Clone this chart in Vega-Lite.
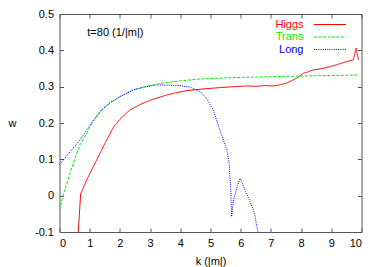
{
  "$schema": "https://vega.github.io/schema/vega-lite/v6.json",
  "width": 302,
  "height": 218,
  "autosize": {"type": "none"},
  "padding": {"left": 59.5, "top": 14, "right": 20.5, "bottom": 35},
  "background": "white",
  "config": {
    "view": {"stroke": null},
    "font": "Liberation Sans",
    "axis": {
      "grid": false,
      "domainColor": "#555555",
      "tickColor": "#555555",
      "tickSize": -4,
      "labelFont": "Liberation Sans",
      "labelFontSize": 11,
      "labelColor": "#000000",
      "titleFont": "Liberation Sans",
      "titleFontSize": 11,
      "titleFontWeight": "normal",
      "titleColor": "#000000"
    }
  },
  "datasets": {
    "curves": [
      {"series": "Higgs", "k": 0.60, "w": -0.13},
      {"series": "Higgs", "k": 0.70, "w": 0.005},
      {"series": "Higgs", "k": 0.90, "w": 0.043},
      {"series": "Higgs", "k": 1.23, "w": 0.098},
      {"series": "Higgs", "k": 1.56, "w": 0.153},
      {"series": "Higgs", "k": 1.80, "w": 0.19},
      {"series": "Higgs", "k": 2.00, "w": 0.21},
      {"series": "Higgs", "k": 2.33, "w": 0.236},
      {"series": "Higgs", "k": 2.60, "w": 0.248},
      {"series": "Higgs", "k": 2.89, "w": 0.259},
      {"series": "Higgs", "k": 3.20, "w": 0.268},
      {"series": "Higgs", "k": 3.55, "w": 0.277},
      {"series": "Higgs", "k": 3.90, "w": 0.284},
      {"series": "Higgs", "k": 4.21, "w": 0.289},
      {"series": "Higgs", "k": 4.65, "w": 0.293},
      {"series": "Higgs", "k": 5.09, "w": 0.296},
      {"series": "Higgs", "k": 5.60, "w": 0.299},
      {"series": "Higgs", "k": 6.20, "w": 0.302},
      {"series": "Higgs", "k": 6.50, "w": 0.301},
      {"series": "Higgs", "k": 6.80, "w": 0.303},
      {"series": "Higgs", "k": 7.10, "w": 0.302},
      {"series": "Higgs", "k": 7.30, "w": 0.305},
      {"series": "Higgs", "k": 7.52, "w": 0.31},
      {"series": "Higgs", "k": 7.70, "w": 0.317},
      {"series": "Higgs", "k": 7.85, "w": 0.323},
      {"series": "Higgs", "k": 8.07, "w": 0.337},
      {"series": "Higgs", "k": 8.20, "w": 0.340},
      {"series": "Higgs", "k": 8.40, "w": 0.346},
      {"series": "Higgs", "k": 8.70, "w": 0.350},
      {"series": "Higgs", "k": 8.96, "w": 0.355},
      {"series": "Higgs", "k": 9.20, "w": 0.361},
      {"series": "Higgs", "k": 9.51, "w": 0.369},
      {"series": "Higgs", "k": 9.73, "w": 0.374},
      {"series": "Higgs", "k": 9.78, "w": 0.39},
      {"series": "Higgs", "k": 9.82, "w": 0.406},
      {"series": "Higgs", "k": 9.86, "w": 0.39},
      {"series": "Higgs", "k": 9.90, "w": 0.374},
      {"series": "Trans", "k": 0.00, "w": -0.039},
      {"series": "Trans", "k": 0.15, "w": 0.01},
      {"series": "Trans", "k": 0.35, "w": 0.062},
      {"series": "Trans", "k": 0.50, "w": 0.10},
      {"series": "Trans", "k": 0.68, "w": 0.14},
      {"series": "Trans", "k": 0.90, "w": 0.172},
      {"series": "Trans", "k": 1.10, "w": 0.203},
      {"series": "Trans", "k": 1.40, "w": 0.236},
      {"series": "Trans", "k": 1.67, "w": 0.255},
      {"series": "Trans", "k": 2.00, "w": 0.272},
      {"series": "Trans", "k": 2.44, "w": 0.291},
      {"series": "Trans", "k": 2.80, "w": 0.299},
      {"series": "Trans", "k": 3.10, "w": 0.305},
      {"series": "Trans", "k": 3.50, "w": 0.311},
      {"series": "Trans", "k": 3.99, "w": 0.316},
      {"series": "Trans", "k": 4.65, "w": 0.321},
      {"series": "Trans", "k": 5.50, "w": 0.324},
      {"series": "Trans", "k": 6.20, "w": 0.326},
      {"series": "Trans", "k": 7.30, "w": 0.328},
      {"series": "Trans", "k": 8.40, "w": 0.33},
      {"series": "Trans", "k": 9.90, "w": 0.332},
      {"series": "Long", "k": 0.00, "w": 0.085},
      {"series": "Long", "k": 0.35, "w": 0.121},
      {"series": "Long", "k": 0.68, "w": 0.153},
      {"series": "Long", "k": 0.90, "w": 0.181},
      {"series": "Long", "k": 1.10, "w": 0.205},
      {"series": "Long", "k": 1.40, "w": 0.237},
      {"series": "Long", "k": 1.67, "w": 0.256},
      {"series": "Long", "k": 2.00, "w": 0.273},
      {"series": "Long", "k": 2.44, "w": 0.291},
      {"series": "Long", "k": 2.80, "w": 0.299},
      {"series": "Long", "k": 3.22, "w": 0.305},
      {"series": "Long", "k": 3.60, "w": 0.304},
      {"series": "Long", "k": 3.99, "w": 0.303},
      {"series": "Long", "k": 4.32, "w": 0.299},
      {"series": "Long", "k": 4.65, "w": 0.287},
      {"series": "Long", "k": 4.87, "w": 0.268},
      {"series": "Long", "k": 5.09, "w": 0.236},
      {"series": "Long", "k": 5.31, "w": 0.181},
      {"series": "Long", "k": 5.54, "w": 0.126},
      {"series": "Long", "k": 5.62, "w": 0.089},
      {"series": "Long", "k": 5.67, "w": 0.016},
      {"series": "Long", "k": 5.70, "w": -0.058},
      {"series": "Long", "k": 5.76, "w": -0.012},
      {"series": "Long", "k": 5.87, "w": 0.02},
      {"series": "Long", "k": 5.98, "w": 0.048},
      {"series": "Long", "k": 6.03, "w": 0.039},
      {"series": "Long", "k": 6.14, "w": 0.016},
      {"series": "Long", "k": 6.31, "w": -0.016},
      {"series": "Long", "k": 6.42, "w": -0.04},
      {"series": "Long", "k": 6.47, "w": -0.053},
      {"series": "Long", "k": 6.53, "w": -0.085},
      {"series": "Long", "k": 6.58, "w": -0.1},
      {"series": "Long", "k": 6.62, "w": -0.13}
    ],
    "note": [{"label": "t=80 (1/|m|)"}]
  },
  "layer": [
    {
      "data": {"name": "curves"},
      "mark": {"type": "line", "strokeWidth": 1, "clip": true},
      "encoding": {
        "x": {
          "field": "k", "type": "quantitative",
          "scale": {"domain": [0, 10], "nice": false, "zero": false},
          "axis": {"orient": "bottom", "title": "k (|m|)", "values": [0,1,2,3,4,5,6,7,8,9,10], "format": "d", "labelPadding": 9, "titleBaseline": "middle", "titleY": 29}
        },
        "y": {
          "field": "w", "type": "quantitative",
          "scale": {"domain": [-0.1, 0.5], "nice": false, "zero": false},
          "axis": {"orient": "left", "title": "w", "values": [-0.1, 0, 0.1, 0.2, 0.3, 0.4, 0.5], "format": ".1~f", "labelExpr": "replace(datum.label, '−', '-')", "labelPadding": 10, "titleAngle": 0, "titleAlign": "center", "titleBaseline": "middle", "titleX": -47.5, "titleY": 109}
        },
        "color": {
          "field": "series", "type": "nominal",
          "scale": {"domain": ["Higgs", "Trans", "Long"], "range": ["#ff0000", "#00ee00", "#0000ff"]},
          "legend": {
            "title": null,
            "orient": "none",
            "legendX": 265,
            "legendY": 5,
            "padding": 0,
            "symbolType": "M-4,0H4",
            "symbolSize": 64,
            "symbolStrokeWidth": 1,
            "labelAlign": "right",
            "labelOffset": -32,
            "labelFont": "Liberation Sans",
            "labelFontSize": 11,
            "rowPadding": 0.5,
            "encode": {"labels": {"update": {"fill": {"scale": "color", "field": "value"}}}}
          }
        },
        "strokeDash": {
          "field": "series", "type": "nominal",
          "scale": {"domain": ["Higgs", "Trans", "Long"], "range": [[1, 0], [3, 1.5], [1, 1.2]]}
        },
        "detail": {"field": "series"}
      }
    },
    {
      "data": {"name": "note"},
      "mark": {"type": "text", "align": "left", "baseline": "middle", "font": "Liberation Sans", "fontSize": 11, "color": "#000000"},
      "encoding": {
        "x": {"datum": 0.92, "type": "quantitative", "axis": {"orient": "top", "title": null, "labels": false, "values": [0,1,2,3,4,5,6,7,8,9,10]}},
        "y": {"datum": 0.447, "type": "quantitative", "axis": {"orient": "right", "title": null, "labels": false, "values": [-0.1, 0, 0.1, 0.2, 0.3, 0.4, 0.5]}},
        "text": {"field": "label"}
      }
    }
  ],
  "resolve": {"axis": {"x": "independent", "y": "independent"}}
}
